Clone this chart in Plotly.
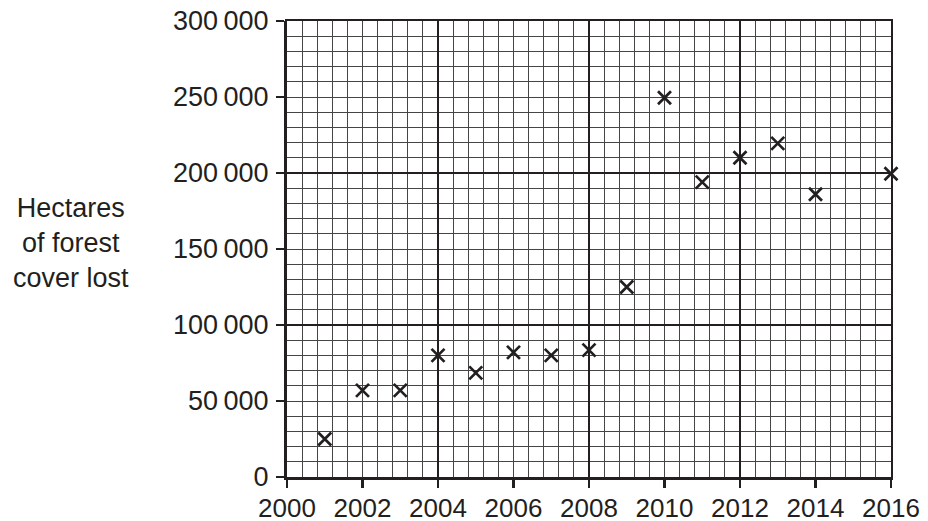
import plotly.graph_objects as go

years = [2001, 2002, 2003, 2004, 2005, 2006, 2007, 2008, 2009, 2010, 2011, 2012, 2013, 2014, 2016]
hectares_lost = [25000, 57000, 57000, 80000, 68500, 82000, 80000, 83500, 125000, 249500, 194000, 210000, 219500, 186000, 199500]

x_tick_vals = list(range(2000, 2017, 2))
x_tick_text = [str(v) for v in x_tick_vals]
y_tick_vals = [0, 50000, 100000, 150000, 200000, 250000, 300000]
y_tick_text = ["0", "50\u2009000", "100\u2009000", "150\u2009000", "200\u2009000", "250\u2009000", "300\u2009000"]
y_title = "Hectares<br>of forest<br>cover lost"

INK = "#231f20"
MINOR = "#454545"
FONT = dict(family="Liberation Sans, Arial, sans-serif", size=27, color=INK)
XFONT = dict(family="Liberation Sans, Arial, sans-serif", size=26, color=INK)

fig = go.Figure()

# base subplot (minor grid, axes, tick labels)
fig.add_trace(go.Scatter(x=[], y=[], xaxis="x", yaxis="y", showlegend=False, hoverinfo="skip"))
# overlay subplot (major grid + data)
fig.add_trace(go.Scatter(
    x=years, y=hectares_lost, xaxis="x2", yaxis="y2",
    mode="markers", cliponaxis=False,
    marker=dict(symbol="x-thin", size=13, line=dict(width=2.7, color=INK), color=INK),
    showlegend=False, hoverinfo="skip",
))

fig.update_layout(
    width=928, height=521,
    margin=dict(l=287, r=37, t=21, b=44, autoexpand=False),
    paper_bgcolor="white", plot_bgcolor="white",
    font=FONT,
    xaxis=dict(
        range=[2000, 2016], tickmode="array", tickvals=x_tick_vals, ticktext=x_tick_text,
        ticks="outside", ticklen=8, tickwidth=2.5, tickcolor=INK,
        showline=True, linewidth=3, linecolor=INK,
        showgrid=True, gridcolor=MINOR, gridwidth=1,
        minor=dict(dtick=0.4, tick0=2000, showgrid=True, gridcolor=MINOR, gridwidth=1, ticks=""),
        zeroline=False, fixedrange=True, tickfont=XFONT, automargin=False,
        ticklabeloverflow="allow", ticklabelstandoff=-2,
    ),
    yaxis=dict(
        range=[0, 300000], tickmode="array", tickvals=y_tick_vals, ticktext=y_tick_text,
        ticks="outside", ticklen=8, tickwidth=2.5, tickcolor=INK,
        showline=True, linewidth=3, linecolor=INK,
        showgrid=True, gridcolor=MINOR, gridwidth=1,
        minor=dict(dtick=10000, tick0=0, showgrid=True, gridcolor=MINOR, gridwidth=1, ticks=""),
        zeroline=False, fixedrange=True, tickfont=FONT, ticklabelstandoff=2, automargin=False,
        ticklabeloverflow="allow",
    ),
    xaxis2=dict(
        overlaying="x", anchor="y2", range=[2000, 2016], tick0=2000, dtick=4,
        showgrid=True, gridcolor=INK, gridwidth=2, automargin=False,
        showline=True, mirror=True, linewidth=2, linecolor=INK,
        showticklabels=False, ticks="", zeroline=False, fixedrange=True,
    ),
    yaxis2=dict(
        overlaying="y", anchor="x2", range=[0, 300000], tick0=0, dtick=100000,
        showgrid=True, gridcolor=INK, gridwidth=2, automargin=False,
        showline=True, mirror=True, linewidth=2, linecolor=INK,
        showticklabels=False, ticks="", zeroline=False, fixedrange=True,
    ),
    annotations=[dict(
        text=y_title, xref="paper", yref="paper", x=-0.357, y=0.513,
        xanchor="center", yanchor="middle", showarrow=False, align="center",
        font=FONT,
    )],
)

fig.write_html(
    "out.html",
    config={"displayModeBar": False, "staticPlot": True},
    post_script="document.body.style.margin='0px';document.body.style.overflow='hidden';",
)
